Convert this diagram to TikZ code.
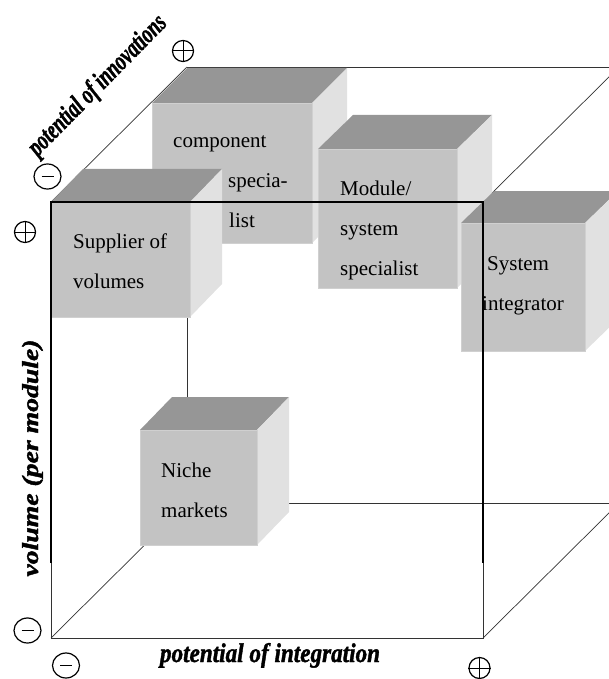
\documentclass[tikz,border=0pt]{standalone}
\usepackage{fontspec}
\setmainfont{Liberation Serif}
\newfontfamily\heavyserif{Liberation Serif}[FakeBold=1.6]
\usetikzlibrary{shapes.geometric}
\definecolor{boxfront}{HTML}{C3C3C3}
\definecolor{boxtop}{HTML}{969696}
\definecolor{boxside}{HTML}{E1E1E1}
\definecolor{boxedge}{HTML}{D0D0D0}
% solid block: front face (#1,#2)-(#3,#4), depth vector (#5,#6)
\newcommand\solidblock[6]{%
  \fill[topface] (#1,#2) -- (#1+#5,#2+#6) -- (#3+#5,#2+#6) -- (#3,#2) -- cycle;
  \fill[sideface] (#3,#2) -- (#3+#5,#2+#6) -- (#3+#5,#4+#6) -- (#3,#4) -- cycle;
  \filldraw[frontface] (#1,#2) rectangle (#3,#4);
}
\begin{document}
\begin{tikzpicture}[x=1pt,y=-1pt,
  topface/.style={fill=boxtop},
  sideface/.style={fill=boxside},
  frontface/.style={fill=boxfront, draw=boxedge, line width=0.9pt},
  edge/.style={draw=black!80, line width=0.7pt},
  frame/.style={draw=black, line width=1.7pt},
  boxtext/.style={anchor=base west, inner sep=0pt, align=left,
    font=\fontsize{21}{40}\selectfont},
  axislabel/.style={inner sep=0pt, font=\heavyserif\bfseries\itshape},
  minussign/.style={draw, line width=1.2pt, ellipse, inner sep=0pt,
    minimum width=27pt, minimum height=25pt},
  plussign/.style={draw, line width=1.2pt, circle, inner sep=0pt,
    minimum size=21pt}]
\useasboundingbox (0,0) rectangle (609,679);
\clip (0,0) rectangle (609,679);

% cube corners
\coordinate (F1) at (51,202);
\coordinate (F2) at (483,202);
\coordinate (F3) at (483,638);
\coordinate (F4) at (51,638);
\coordinate (B1) at (187,67);
\coordinate (B2) at (619,67);
\coordinate (B3) at (619,503);
\coordinate (B4) at (187,503);
\coordinate (L1) at (51,563);
\coordinate (L2) at (483,563);

% rear face, depth edges and front face outline
\draw[edge] (B1) -- (B2) -- (B3) -- (B4) -- cycle;
\draw[edge] (F1) -- (B1) (F2) -- (B2) (F3) -- (B3) (F4) -- (B4);
\draw[edge] (F1) -- (F2) -- (F3) -- (F4) -- cycle;

% blocks, back to front
\solidblock{152}{103}{312}{243}{35}{-35}
\solidblock{318}{149}{457}{288}{35}{-34}
\solidblock{461}{223}{585}{351}{33}{-32}
\solidblock{51}{202}{190}{317}{32}{-33}
\solidblock{140}{430}{257}{545}{32}{-33}

% block captions (anchored at the baseline of the last line)
\node[boxtext] (comp) at (173,227) {component\\\hspace*{55pt}specia-\\\hspace*{56pt}list};
\node[boxtext] (mod) at (340,275) {Module/\\system\\specialist};
\node[boxtext] (integ) at (482,310) {\hspace*{5pt}System\\integrator};
\node[boxtext] (supp) at (73,288) {Supplier of\\volumes};
\node[boxtext] (niche) at (161,517) {Niche\\markets};

% heavy front frame
\draw[frame] (L1) -- (F1) -- (F2) -- (L2);

% axis labels
\node[axislabel, anchor=base] (xlab) at (270,662)
  {\resizebox{220pt}{19pt}{potential of integration}};
\node[axislabel, anchor=base, rotate=90] (ylab) at (38,458)
  {\resizebox{237pt}{16pt}{volume (per module)}};
\node[axislabel, rotate=45.5] (zlab) at (98,86)
  {\resizebox{186pt}{19pt}{potential of innovations}};

% plus / minus markers
\node[minussign] (zmin) at (47.5,176.5) {};
\node[plussign] (zmax) at (183,51) {};
\node[plussign] (ymax) at (25,232) {};
\node[minussign] (ymin) at (27.5,630.5) {};
\node[minussign] (xmin) at (66,665.5) {};
\node[plussign] (xmax) at (479.5,668) {};
\foreach \m in {zmin,ymin,xmin}
  \draw[line width=1.2pt] ([xshift=-6pt]\m.center) -- ([xshift=6pt]\m.center);
\foreach \p in {zmax,ymax,xmax}
  \draw[line width=1pt] (\p.north) -- (\p.south) (\p.west) -- (\p.east);
\end{tikzpicture}
\end{document}
